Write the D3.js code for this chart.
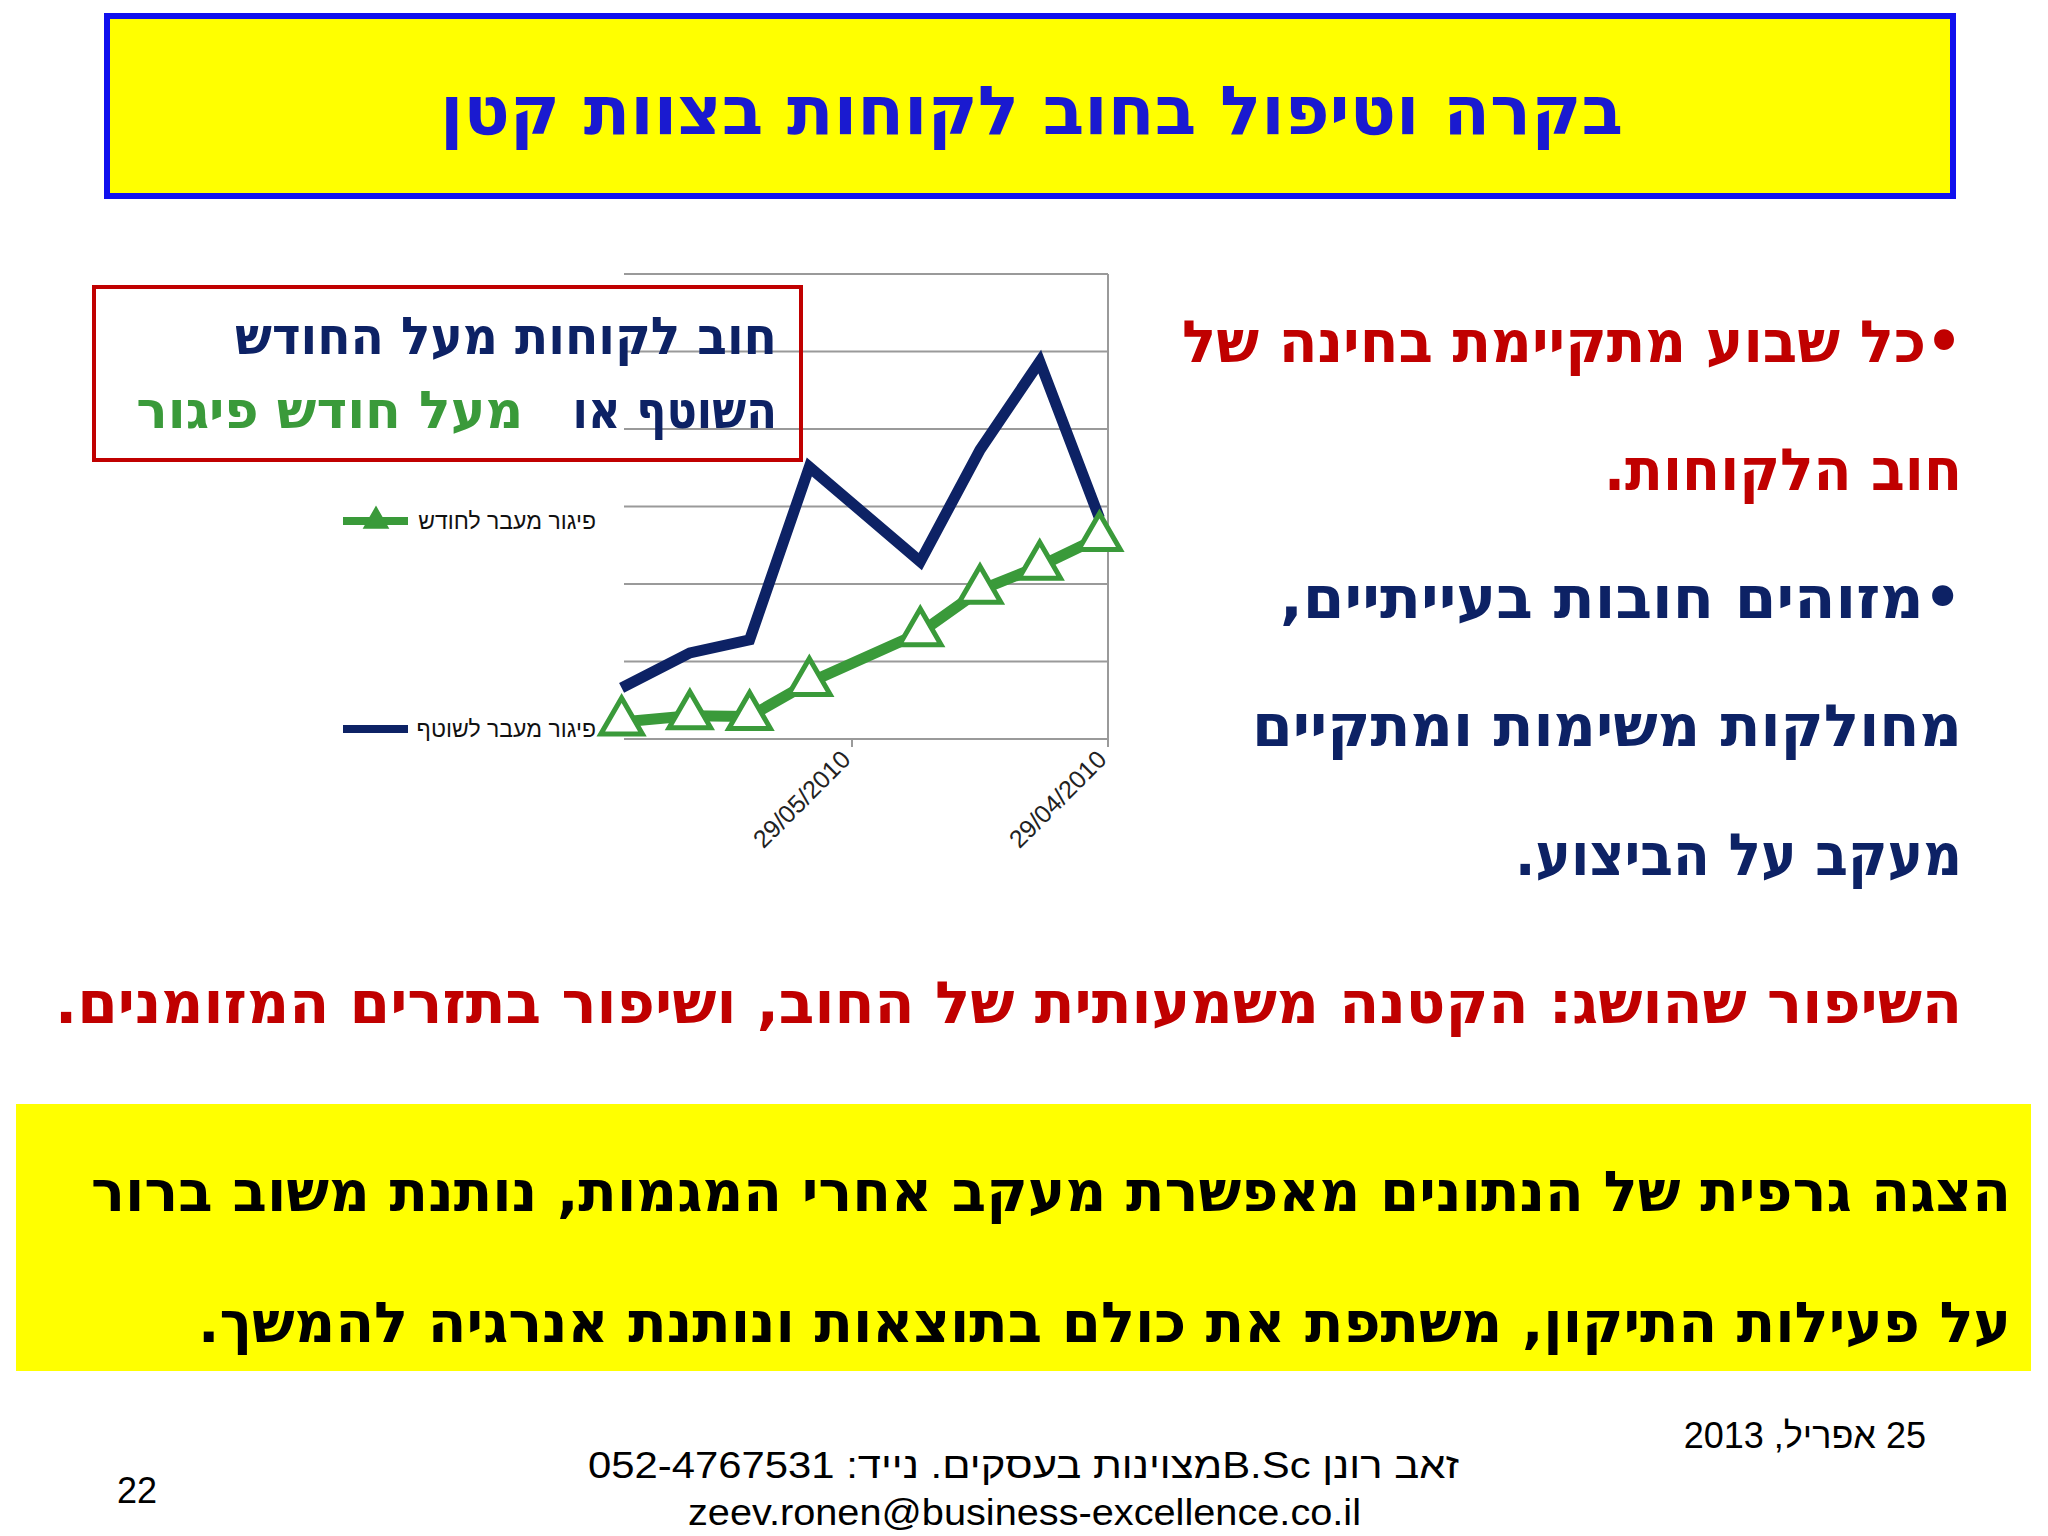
<!DOCTYPE html>
<html><head><meta charset="utf-8">
<script src="https://cdn.jsdelivr.net/npm/d3@7"></script>
<style>body{margin:0;background:#fff}</style>
</head><body>
<div id="chart"></div>
<script>
// data
const dates = ["2010-04-30","2010-05-07","2010-05-14","2010-05-21","2010-06-03","2010-06-10","2010-06-17","2010-06-25"];
const partner = [2.85, 4.87, 3.73, 2.29, 3.51, 1.28, 1.11, 0.66];  // פיגור מעבר לשוטף
const month = [2.60, 2.23, 1.92, 1.37, 0.73, 0.29, 0.30, 0.22];    // פיגור מעבר לחודש
const tickDates = ["2010-04-29","2010-05-29"];
const tickLabels = ["29/04/2010","29/05/2010"];
const gridVals = [0,1,2,3,4,5,6];

const W = 2048, H = 1536;
const svg = d3.select("#chart").append("svg").attr("width", W).attr("height", H);
const heb = "'DejaVu Sans', sans-serif";
const navy = "#0d2265", green = "#3a9a3a", red = "#c00000";

// stretch text to the width it has in the slide
const fit = (sel, len) => sel.attr("textLength", len).attr("lengthAdjust", "spacingAndGlyphs");

// title
svg.append("rect").attr("x",107).attr("y",16).attr("width",1846).attr("height",180)
  .attr("fill","#ffff00").attr("stroke","#1010ee").attr("stroke-width",6);
fit(svg.append("text").attr("x",1623).attr("y",134).attr("direction","rtl")
  .attr("font-family",heb).attr("font-weight","bold").attr("font-size",68).attr("fill","#1a1ad0")
  .text("בקרה וטיפול בחוב לקוחות בצוות קטן"), 1183);

// chart
const parse = d3.timeParse("%Y-%m-%d");
const x = d3.scaleTime().domain([parse("2010-04-29"), parse("2010-05-29")]).range([1108, 852]);
const y = d3.scaleLinear().domain([0,6]).range([739,274]);

svg.append("g").selectAll("line").data(gridVals).enter().append("line")
  .attr("x1",624).attr("x2",1108).attr("y1",d=>y(d)).attr("y2",d=>y(d))
  .attr("stroke","#9a9a9a").attr("stroke-width",2);
svg.append("line").attr("x1",1108).attr("x2",1108).attr("y1",y(6)).attr("y2",y(0)).attr("stroke","#9a9a9a").attr("stroke-width",2);

const ax = svg.append("g");
tickDates.forEach((d,i) => {
  const px = x(parse(d));
  ax.append("line").attr("x1",px).attr("x2",px).attr("y1",y(0)).attr("y2",y(0)+8).attr("stroke","#9a9a9a").attr("stroke-width",2);
  ax.append("text").attr("transform",`translate(${px},${y(0)+22}) rotate(-45)`).attr("text-anchor","end")
    .attr("font-family","'Liberation Sans', Arial").attr("font-size",25).attr("fill","#222").text(tickLabels[i]);
});

const line = d3.line().x((d,i)=>x(parse(dates[i]))).y(d=>y(d));
svg.append("path").attr("d",line(partner)).attr("fill","none").attr("stroke",navy).attr("stroke-width",11);
svg.append("path").attr("d",line(month)).attr("fill","none").attr("stroke",green).attr("stroke-width",11);
const tri = d3.symbol().type(d3.symbolTriangle).size(750);
svg.append("g").selectAll("path").data(month).enter().append("path")
  .attr("d",tri).attr("transform",(d,i)=>`translate(${x(parse(dates[i]))},${y(d)})`)
  .attr("fill","#fff").attr("stroke",green).attr("stroke-width",5);

// legend
const leg = [["פיגור מעבר לחודש", green, 521, true],["פיגור מעבר לשוטף", navy, 729, false]];
leg.forEach(l => {
  svg.append("line").attr("x1",343).attr("x2",408).attr("y1",l[2]).attr("y2",l[2]).attr("stroke",l[1]).attr("stroke-width",8);
  if (l[3]) svg.append("path").attr("d",d3.symbol().type(d3.symbolTriangle).size(200)).attr("transform",`translate(376,${l[2]})`)
    .attr("fill",l[1]).attr("stroke",l[1]).attr("stroke-width",3);
  svg.append("text").attr("x",596).attr("y",l[2]+8).attr("direction","rtl")
    .attr("font-family","'Liberation Sans', Arial").attr("font-size",23).attr("fill","#111").text(l[0]);
});

// red box
svg.append("rect").attr("x",94).attr("y",287).attr("width",707).attr("height",173).attr("fill","none").attr("stroke",red).attr("stroke-width",4);
fit(svg.append("text").attr("x",777).attr("y",354).attr("direction","rtl").attr("font-family",heb).attr("font-weight","bold")
  .attr("font-size",52).attr("fill",navy).text("חוב לקוחות מעל החודש"), 542);
const t2 = svg.append("text").attr("x",777).attr("y",428).attr("direction","rtl").attr("font-family",heb).attr("font-weight","bold").attr("font-size",52);
fit(t2.append("tspan").attr("fill",navy).text("השוטף או "), 220);
fit(t2.append("tspan").attr("fill",green).text("מעל חודש פיגור"), 387);

// right bullets
const bullets = [["•כל שבוע מתקיימת בחינה של", red, 362, 780],["חוב הלקוחות.", red, 490, 358],["•מזוהים  חובות בעייתיים,", navy, 618, 682],
  ["מחולקות משימות ומתקיים", navy, 746, 710],["מעקב על הביצוע.", navy, 875, 447]];
svg.append("g").selectAll("text").data(bullets).enter().append("text")
  .attr("x",1962).attr("y",d=>d[2]).attr("direction","rtl").attr("font-family",heb).attr("font-weight","bold")
  .attr("font-size",58).attr("fill",d=>d[1]).attr("textLength",d=>d[3]).attr("lengthAdjust","spacingAndGlyphs").text(d=>d[0]);
fit(svg.append("text").attr("x",1962).attr("y",1023).attr("direction","rtl").attr("font-family",heb).attr("font-weight","bold")
  .attr("font-size",58).attr("fill",red).text("השיפור שהושג: הקטנה משמעותית של החוב, ושיפור בתזרים המזומנים."), 1907);

// bottom box
svg.append("rect").attr("x",16).attr("y",1104).attr("width",2015).attr("height",267).attr("fill","#ffff00");
[["הצגה גרפית של הנתונים מאפשרת מעקב אחרי המגמות, נותנת משוב ברור",1211,1920],["על פעילות התיקון, משתפת את כולם בתוצאות ונותנת אנרגיה להמשך.",1342,1813]]
 .forEach(d => fit(svg.append("text").attr("x",2011).attr("y",d[1]).attr("direction","rtl").attr("font-family",heb).attr("font-weight","bold")
   .attr("font-size",56).attr("fill","#000").text(d[0]), d[2]));

// footer
const ff = "'Liberation Sans', Arial";
svg.append("text").attr("x",1926).attr("y",1448).attr("direction","rtl").attr("font-family",ff).attr("font-size",36).text("25 אפריל, 2013");
fit(svg.append("text").attr("x",1459).attr("y",1478).attr("direction","rtl").attr("font-family",ff).attr("font-size",36)
  .text("זאב רונן      B.Scמצוינות בעסקים.  נייד: 052-4767531"), 871);
fit(svg.append("text").attr("x",688).attr("y",1525).attr("font-family",ff).attr("font-size",36).text("zeev.ronen@business-excellence.co.il"), 673);
svg.append("text").attr("x",137).attr("y",1503).attr("text-anchor","middle").attr("font-family",ff).attr("font-size",36).text("22");
</script>
</body></html>
